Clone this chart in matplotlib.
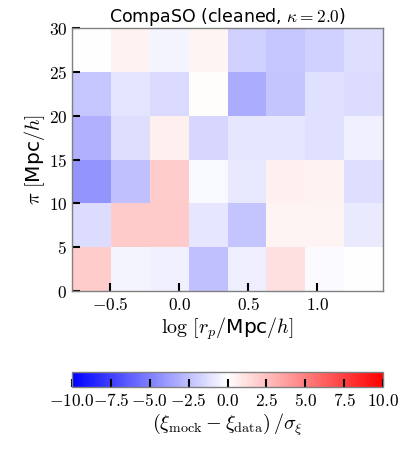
import numpy as np
import matplotlib
matplotlib.use("Agg")
import matplotlib.pyplot as plt
from matplotlib.ticker import FuncFormatter

plt.rcParams['mathtext.fontset'] = 'cm'
plt.rcParams['font.family'] = ['DejaVu Sans']

# bin edges
logrp_edges = np.linspace(np.log10(1/6), np.log10(30), 9)
pi_edges = [0, 5, 10, 15, 20, 25, 30]

# (xi_mock - xi_data)/sigma, rows = pi bins (bottom to top), cols = log rp bins
row_0_5   = [2.0, -0.4, -0.6, -2.5, -0.7, 1.2, -0.2, -0.05]
row_5_10  = [-1.4, 2.1, 2.1, -1.0, -2.3, 0.4, 0.4, -0.8]
row_10_15 = [-4.2, -2.5, 2.0, -0.3, -0.9, 0.6, 0.5, -1.3]
row_15_20 = [-3.1, -1.3, 0.6, -1.6, -1.0, -1.0, -1.2, -0.6]
row_20_25 = [-2.2, -1.05, -1.45, 0.1, -3.25, -2.3, -1.2, -1.4]
row_25_30 = [0.0, 0.5, -0.4, 0.4, -1.8, -2.2, -1.85, -1.3]
values = np.array([row_0_5, row_5_10, row_10_15, row_15_20, row_20_25, row_25_30])

cbar_ticks = [-10.0, -7.5, -5.0, -2.5, 0.0, 2.5, 5.0, 7.5, 10.0]
x_ticks = [-0.5, 0.0, 0.5, 1.0]
y_ticks = [0, 5, 10, 15, 20, 25, 30]

fig = plt.figure(figsize=(3.99, 4.65), dpi=100)
ax = fig.add_axes([72/399, 1-291/465, (383-72)/399, (291-28)/465])
mesh = ax.pcolormesh(logrp_edges, pi_edges, values, cmap='bwr', vmin=-10, vmax=10)
ax.set_xlim(logrp_edges[0], logrp_edges[-1])
ax.set_ylim(0, 30)
ax.set_xticks(x_ticks)
ax.set_yticks(y_ticks)
ax.xaxis.set_major_formatter(FuncFormatter(lambda v, p: r'$%.1f$' % v))
ax.yaxis.set_major_formatter(FuncFormatter(lambda v, p: r'$%d$' % v))
ax.tick_params(direction='in', length=6, width=1.5, color='black', labelsize=12.5,
               top=False, right=False)
for s in ax.spines.values():
    s.set_color('#808080')
    s.set_linewidth(1.0)
ax.set_title(r'CompaSO (cleaned, $\kappa = 2.0$)', fontsize=12.5, pad=3)
ax.set_xlabel(r'$\log\,[r_p/$Mpc$/h]$', fontsize=14.5, labelpad=1)
ax.set_ylabel(r'$\pi\ [$Mpc$/h]$', fontsize=14.5, labelpad=1)

cax = fig.add_axes([72/399, 1-387/465, (383-72)/399, 15/465])
cb = fig.colorbar(mesh, cax=cax, orientation='horizontal')
cb.set_ticks(cbar_ticks)
cb.ax.xaxis.set_major_formatter(FuncFormatter(lambda v, p: r'$%.1f$' % v))
cb.ax.tick_params(direction='in', length=6, width=1.5, color='black', labelsize=12.5)
cb.outline.set_edgecolor('#808080')
cb.outline.set_linewidth(1.0)
cb.set_label(r'$(\xi_{\rm mock} - \xi_{\rm data})\,/\sigma_\xi$', fontsize=14.5, labelpad=1)

fig.savefig('out.png', dpi=100)
